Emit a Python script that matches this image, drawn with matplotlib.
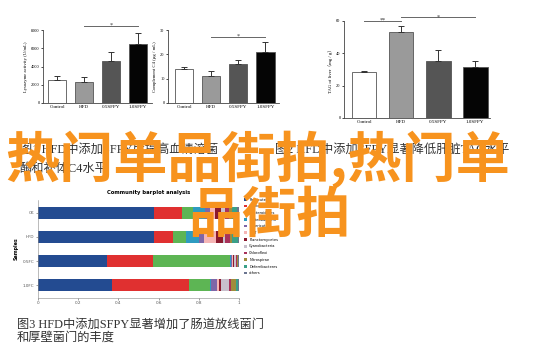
import numpy as np
import matplotlib
matplotlib.use('Agg')
import matplotlib.pyplot as plt

plt.rcParams['font.family'] = ['Liberation Serif', 'Noto Sans CJK SC', 'DejaVu Sans']

# --- data ---
groups = ['Control', 'HFD', '0.5SFPY', '1.0SFPY']
lys = [2550, 2330, 4650, 6480]
lys_err = [450, 500, 950, 1150]
c4 = [14.0, 11.1, 16.2, 21.0]
c4_err = [0.8, 2.0, 1.5, 4.2]
tag = [28.3, 53.1, 35.5, 31.8]
tag_err = [0.8, 3.7, 6.3, 3.5]
bar_cols = ['white', '#9a9a9a', '#555555', '#050505']

samples = ['CK', 'HFD', '0.5FC', '1.0FC']
phyla = ['Firmicutes', 'Actinobacteria', 'Bacteroidetes', 'Proteobacteria',
         'Tenericutes', 'TM7', 'Planctomycetes', 'Cyanobacteria',
         'Chloroflexi', 'Nitrospirae', 'Deferribacteres', 'others']
firmicutes = [0.577, 0.577, 0.343, 0.370]
actino = [0.140, 0.093, 0.227, 0.380]
bactero = [0.053, 0.065, 0.385, 0.105]
proteo = [0.060, 0.065, 0.005, 0.005]
teneri = [0.025, 0.026, 0.005, 0.030]
tm7 = [0.025, 0.059, 0.005, 0.010]
plancto = [0.030, 0.035, 0.005, 0.010]
cyano = [0.020, 0.010, 0.010, 0.040]
chloro = [0.020, 0.025, 0.004, 0.010]
nitro = [0.015, 0.010, 0.004, 0.025]
deferri = [0.025, 0.030, 0.004, 0.010]
others = [0.010, 0.005, 0.003, 0.005]
abund = [firmicutes, actino, bactero, proteo, teneri, tm7, plancto, cyano,
         chloro, nitro, deferri, others]
phy_cols = ['#234b91', '#e03030', '#5db554', '#2e9bc0', '#7e66a8', '#f5b5b5',
            '#8b1a2e', '#c8c0cc', '#a8325a', '#a08c3c', '#3aa088', '#6a7590']

W, H = 550, 357
fig = plt.figure(figsize=(5.5, 3.57), dpi=100)


def box(l, r, t, b):
    return [l / W, 1 - b / H, (r - l) / W, (b - t) / H]


def bar_panel(rect, vals, errs, ylim, yticks, ylabel, xlim):
    ax = fig.add_axes(rect)
    x = np.arange(4)
    ax.bar(x, vals, width=0.67, color=bar_cols, edgecolor='#555555', linewidth=0.6)
    ax.errorbar(x, vals, yerr=[np.zeros(4), errs], fmt='none', ecolor='#333333',
                elinewidth=0.7, capsize=2.5, capthick=0.7)
    ax.set_xlim(*xlim)
    ax.set_ylim(*ylim)
    ax.set_yticks(yticks)
    ax.set_xticks(x)
    ax.set_xticklabels(groups, fontsize=3.6)
    ax.tick_params(axis='y', labelsize=3.2, length=1.5, width=0.5, pad=1)
    ax.tick_params(axis='x', length=0, pad=1.5)
    ax.set_ylabel(ylabel, fontsize=3.4, labelpad=2)
    for s in ['top', 'right']:
        ax.spines[s].set_visible(False)
    for s in ['left', 'bottom']:
        ax.spines[s].set_linewidth(0.6)
        ax.spines[s].set_color('#444444')
    return ax


def sig(ax, x0, x1, y, txt, dy):
    ax.plot([x0, x1], [y, y], color='#666666', lw=0.7, clip_on=False)
    ax.text((x0 + x1) / 2, y + dy, txt, ha='center', va='bottom', fontsize=4.5,
            color='#333333', clip_on=False)


ax1 = bar_panel(box(43, 152, 30, 103), lys, lys_err, (0, 8000),
                [0, 2000, 4000, 6000, 8000], 'Lysozyme activity (U/mL)', (-0.52, 3.52))
sig(ax1, 1, 3, 8450, '*', -150)

ax2 = bar_panel(box(168, 279, 30, 103), c4, c4_err, (0, 30),
                [0, 10, 20, 30], 'Complement C4 (μg / mL)', (-0.59, 3.5))
sig(ax2, 1, 3, 27.1, '*', -0.5)

ax3 = bar_panel(box(344, 490, 21, 118), tag, tag_err, (0, 60),
                [0, 20, 40, 60], 'TAG of liver（mg / g）', (-0.54, 3.4))
sig(ax3, 0, 1, 60.2, '**', -1.2)
sig(ax3, 1, 3, 62.3, '*', -1.2)

# captions
cap_kw = dict(fontsize=8.8, color='#333333', va='center', ha='left')
fig.text(20 / W, 1 - 150 / H, '图1 HFD中添加SFPY后提高血清溶菌', **cap_kw)
fig.text(20 / W, 1 - 169 / H, '酶和补体C4水平', **cap_kw)
fig.text(275 / W, 1 - 150 / H, '图2 HFD中添加SFPY显著降低肝脏TAG水平', **cap_kw)
fig.text(17 / W, 1 - 325 / H, '图3 HFD中添加SFPY显著增加了肠道放线菌门', **cap_kw)
fig.text(17 / W, 1 - 338 / H, '和厚壁菌门的丰度', **cap_kw)

# stacked bar chart
ax4 = fig.add_axes(box(38, 239, 200, 298))
y = np.arange(4)
left = np.zeros(4)
for name, vals, col in zip(phyla, abund, phy_cols):
    ax4.barh(y, vals, left=left, height=0.5, color=col, label=name, linewidth=0)
    left = left + np.array(vals)
ax4.set_xlim(0, 1)
ax4.set_ylim(3.54, -0.54)
ax4.set_yticks(y)
ax4.set_yticklabels(samples, fontsize=3, family='DejaVu Sans')
ax4.set_xticks([0, 0.2, 0.4, 0.6, 0.8, 1])
ax4.set_xticklabels(['0', '0.2', '0.4', '0.6', '0.8', '1'], fontsize=3, family='DejaVu Sans')
ax4.tick_params(length=1.5, width=0.4, pad=1, colors='#555555')
ax4.set_ylabel('Samples', fontsize=3.4, family='DejaVu Sans', weight='bold', labelpad=3)
for s in ['top', 'right']:
    ax4.spines[s].set_visible(False)
for s in ['left', 'bottom']:
    ax4.spines[s].set_linewidth(0.4)
    ax4.spines[s].set_color('#888888')
ax4.set_title('Community barplot analysis', fontsize=3.8, family='DejaVu Sans',
              weight='bold', pad=4, x=0.55)
ax4.legend(loc='upper left', bbox_to_anchor=(1.02, 1.04), fontsize=2.6,
           frameon=False, handlelength=0.8, handleheight=0.8, labelspacing=0.75,
           handletextpad=0.5, borderaxespad=0, prop={'family': 'DejaVu Sans', 'size': 2.6})

# overlay text
ov_kw = dict(fontsize=39, color='#f7931e', weight='bold', va='center', ha='left',
             family=['Noto Sans CJK SC', 'DejaVu Sans'])
fig.text(5 / W, 1 - 160 / H, '热门单品街拍,热门单', **ov_kw)
fig.text(188 / W, 1 - 216 / H, '品街拍', **ov_kw)

fig.savefig('out.png', dpi=100, facecolor='white')
